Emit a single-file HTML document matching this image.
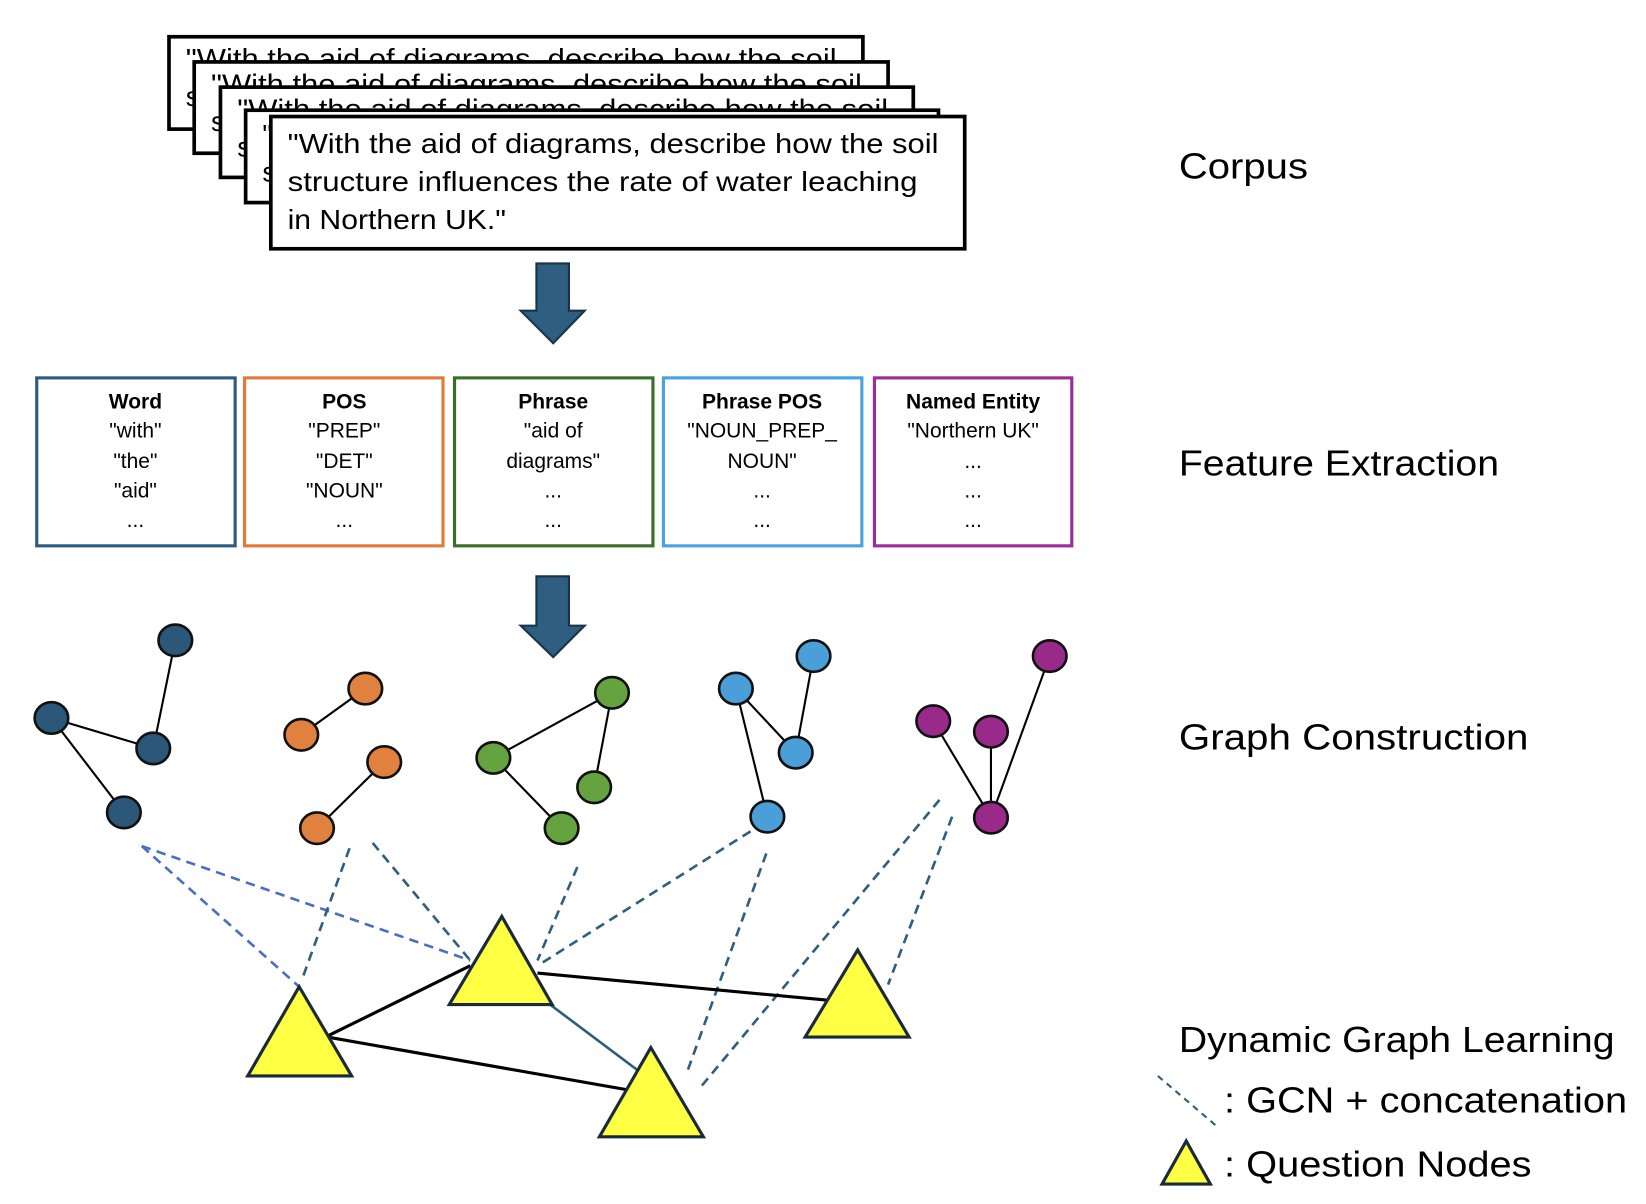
<!DOCTYPE html>
<html><head><meta charset="utf-8"><style>
html,body{margin:0;padding:0;background:#fff}
svg{display:block}
text{font-family:"Liberation Sans",sans-serif}
</style></head><body>
<svg width="1646" height="1204" viewBox="0 0 1568 1147" preserveAspectRatio="none" xmlns="http://www.w3.org/2000/svg">
<!-- stacked corpus boxes -->
<g stroke="#000" stroke-width="3.5" fill="#fff" font-size="26">
<rect x="161" y="35" width="661" height="88"/>
<text x="177" y="65" stroke="none" fill="#000" textLength="620" lengthAdjust="spacingAndGlyphs">"With the aid of diagrams, describe how the soil</text>
<text x="177" y="101" stroke="none" fill="#000">s</text>
<rect x="185" y="59" width="661" height="87"/>
<text x="201" y="89" stroke="none" fill="#000" textLength="620" lengthAdjust="spacingAndGlyphs">"With the aid of diagrams, describe how the soil</text>
<text x="201" y="125" stroke="none" fill="#000">s</text>
<rect x="210" y="83" width="660" height="86"/>
<text x="226" y="113" stroke="none" fill="#000" textLength="620" lengthAdjust="spacingAndGlyphs">"With the aid of diagrams, describe how the soil</text>
<text x="226" y="149" stroke="none" fill="#000">s</text>
<rect x="234" y="105" width="660" height="88"/>
<text x="250" y="137" stroke="none" fill="#000">"</text>
<text x="250" y="173" stroke="none" fill="#000">s</text>
<rect x="258" y="111" width="661" height="126"/>
<text x="274" y="146" stroke="none" fill="#000" textLength="620" lengthAdjust="spacingAndGlyphs">"With the aid of diagrams, describe how the soil</text>
<text x="274" y="182" stroke="none" fill="#000" textLength="600" lengthAdjust="spacingAndGlyphs">structure influences the rate of water leaching</text>
<text x="274" y="218" stroke="none" fill="#000" textLength="208" lengthAdjust="spacingAndGlyphs">in Northern UK."</text>
</g>
<!-- arrows -->
<g fill="#2e5f80" stroke="#1b3347" stroke-width="2">
<polygon points="511,251 542,251 542,296 557,296 527,327 496,296 511,296"/>
<polygon points="511,549 542,549 542,596 557,596 527,626 496,596 511,596"/>
</g>
<!-- feature boxes -->
<g fill="#fff" stroke-width="3">
<rect x="35" y="360" width="189" height="160" stroke="#2e5c80"/>
<rect x="233" y="360" width="189" height="160" stroke="#e07b39"/>
<rect x="433" y="360" width="189" height="160" stroke="#3a6e2a"/>
<rect x="632" y="360" width="189" height="160" stroke="#4aa3dc"/>
<rect x="833" y="360" width="188" height="160" stroke="#9b2d9b"/>
</g>
<g font-size="20" text-anchor="middle" fill="#000">
<g font-weight="bold"><text x="129" y="389">Word</text><text x="328" y="389">POS</text><text x="527" y="389">Phrase</text><text x="726" y="389">Phrase POS</text><text x="927" y="389">Named Entity</text></g>
<text x="129" y="417">"with"</text><text x="129" y="446">"the"</text><text x="129" y="474">"aid"</text><text x="129" y="502">...</text>
<text x="328" y="417">"PREP"</text><text x="328" y="446">"DET"</text><text x="328" y="474">"NOUN"</text><text x="328" y="502">...</text>
<text x="527" y="417">"aid of</text><text x="527" y="446">diagrams"</text><text x="527" y="474">...</text><text x="527" y="502">...</text>
<text x="726" y="417">"NOUN_PREP_</text><text x="726" y="446">NOUN"</text><text x="726" y="474">...</text><text x="726" y="502">...</text>
<text x="927" y="417">"Northern UK"</text><text x="927" y="446">...</text><text x="927" y="474">...</text><text x="927" y="502">...</text>
</g>
<!-- graph edges -->
<g stroke="#000" stroke-width="2">
<line x1="49" y1="684" x2="146" y2="713"/><line x1="49" y1="684" x2="118" y2="774"/><line x1="167" y1="610" x2="146" y2="713"/>
<line x1="348" y1="656" x2="287" y2="700"/><line x1="366" y1="726" x2="302" y2="789"/>
<line x1="583" y1="660" x2="470" y2="722"/><line x1="583" y1="660" x2="566" y2="750"/><line x1="470" y1="722" x2="535" y2="789"/>
<line x1="701" y1="656" x2="758" y2="717"/><line x1="775" y1="625" x2="758" y2="717"/><line x1="701" y1="656" x2="731" y2="778"/>
<line x1="889" y1="687" x2="944" y2="779"/><line x1="944" y1="697" x2="944" y2="779"/><line x1="1000" y1="625" x2="944" y2="779"/>
</g>
<g stroke="#111" stroke-width="2.5">
<g fill="#2b5878"><ellipse cx="167" cy="610" rx="16" ry="15"/><ellipse cx="49" cy="684" rx="16" ry="15"/><ellipse cx="146" cy="713" rx="16" ry="15"/><ellipse cx="118" cy="774" rx="16" ry="15"/></g>
<g fill="#e0813f"><ellipse cx="348" cy="656" rx="16" ry="15"/><ellipse cx="287" cy="700" rx="16" ry="15"/><ellipse cx="366" cy="726" rx="16" ry="15"/><ellipse cx="302" cy="789" rx="16" ry="15"/></g>
<g fill="#64a33f"><ellipse cx="583" cy="660" rx="16" ry="15"/><ellipse cx="470" cy="722" rx="16" ry="15"/><ellipse cx="566" cy="750" rx="16" ry="15"/><ellipse cx="535" cy="789" rx="16" ry="15"/></g>
<g fill="#4a9fd8"><ellipse cx="701" cy="656" rx="16" ry="15"/><ellipse cx="775" cy="625" rx="16" ry="15"/><ellipse cx="758" cy="717" rx="16" ry="15"/><ellipse cx="731" cy="778" rx="16" ry="15"/></g>
<g fill="#9a2a8a"><ellipse cx="1000" cy="625" rx="16" ry="15"/><ellipse cx="889" cy="687" rx="16" ry="15"/><ellipse cx="944" cy="697" rx="16" ry="15"/><ellipse cx="944" cy="779" rx="16" ry="15"/></g>
</g>
<!-- dashed -->
<g stroke-width="2.5" stroke-dasharray="9,6" fill="none">
<g stroke="#4a6fbf"><line x1="135" y1="806" x2="285" y2="940"/><line x1="135" y1="806" x2="448" y2="915"/></g>
<g stroke="#2e5f80">
<line x1="333" y1="808" x2="287" y2="935"/><line x1="355" y1="803" x2="448" y2="915"/>
<line x1="550" y1="826" x2="512" y2="915"/><line x1="715" y1="792" x2="512" y2="920"/>
<line x1="730" y1="813" x2="655" y2="1020"/><line x1="895" y1="762" x2="668" y2="1035"/>
<line x1="907" y1="778" x2="846" y2="938"/>
</g>
</g>
<!-- solid edges -->
<g stroke="#000" stroke-width="3">
<line x1="310" y1="988" x2="448" y2="920"/><line x1="312" y1="988" x2="608" y2="1040"/><line x1="512" y1="927" x2="790" y2="953"/>
</g>
<line x1="524" y1="957" x2="608" y2="1020" stroke="#2e5f80" stroke-width="2.5"/>
<!-- triangles -->
<g fill="#ffff44" stroke="#1b2a3a" stroke-width="3">
<polygon points="285,940 236,1025 335,1025"/>
<polygon points="478,873 428,957 526,957"/>
<polygon points="817,905 767,988 866,988"/>
<polygon points="620,998 571,1083 670,1083"/>
<polygon points="1130,1087 1107,1128 1153,1128"/>
</g>
<line x1="1103" y1="1025" x2="1158" y2="1072" stroke="#2e5f80" stroke-width="2" stroke-dasharray="6,5"/>
<!-- labels -->
<g font-size="34" fill="#000">
<text x="1123" y="170" textLength="123" lengthAdjust="spacingAndGlyphs">Corpus</text>
<text x="1123" y="453" textLength="305" lengthAdjust="spacingAndGlyphs">Feature Extraction</text>
<text x="1123" y="714" textLength="333" lengthAdjust="spacingAndGlyphs">Graph Construction</text>
<text x="1123" y="1002" textLength="415" lengthAdjust="spacingAndGlyphs">Dynamic Graph Learning</text>
<text x="1166" y="1060" textLength="384" lengthAdjust="spacingAndGlyphs">: GCN + concatenation</text>
<text x="1166" y="1121" textLength="293" lengthAdjust="spacingAndGlyphs">: Question Nodes</text>
</g>
</svg>
</body></html>
